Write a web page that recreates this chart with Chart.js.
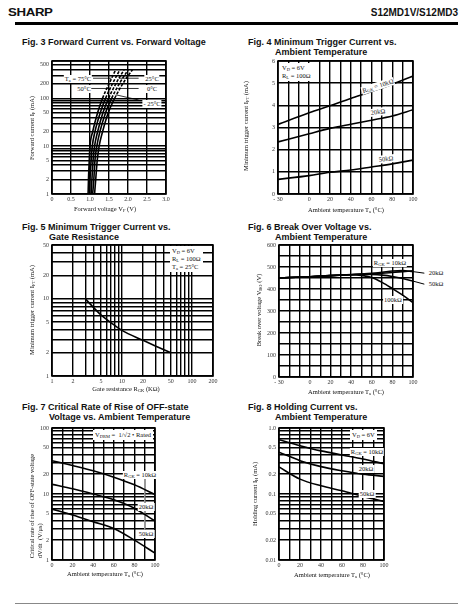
<!DOCTYPE html>
<html>
<head>
<meta charset="utf-8">
<script src="https://cdn.jsdelivr.net/npm/chart.js@4"></script>
<style>
body{margin:0;background:#fff}
#page{position:relative;width:465px;height:611px;overflow:hidden;font-family:'Liberation Serif',serif;color:#111}
canvas{position:absolute}
.hd{position:absolute;font-family:'Liberation Sans',Arial,sans-serif;font-weight:bold;white-space:nowrap}
.tt{position:absolute;font:bold 9px 'Liberation Sans',Arial,sans-serif;line-height:10px;white-space:nowrap}
.tt span{display:block;padding-left:27px}
.lb{position:absolute;font-size:6.5px;line-height:8px;white-space:nowrap;transform:translate(-50%,-50%);background:#fff;padding:0 1px}
.box{position:absolute;font-size:6.5px;line-height:8px;white-space:nowrap;background:#fff;padding:1px 2px}
sub{font-size:4.5px;vertical-align:-1px;line-height:0}
.ax{position:absolute;font-size:6.5px;white-space:nowrap;transform:translate(-50%,-50%)}
.ay{position:absolute;font-size:6.5px;line-height:8px;white-space:nowrap;transform:translate(-50%,-50%) rotate(-90deg)}
</style>
</head>
<body>
<div id="page">
  <div class="hd" style="left:8px;top:6px;font-size:11.5px;font-weight:900;letter-spacing:-0.3px;transform:scaleX(1.15);transform-origin:left">SHARP</div>
  <div class="hd" style="right:7px;top:7px;font-size:10px">S12MD1V/S12MD3</div>
  <div style="position:absolute;left:15px;top:22px;width:443px;height:3px;background:#000"></div>

  <div class="tt" style="left:22px;top:37px">Fig. 3 Forward Current vs. Forward Voltage</div>
  <div class="tt" style="left:248px;top:37px">Fig. 4 Minimum Trigger Current vs.<span>Ambient Temperature</span></div>
  <div class="tt" style="left:22px;top:222px">Fig. 5 Minimum Trigger Current vs.<span>Gate Resistance</span></div>
  <div class="tt" style="left:248px;top:222px">Fig. 6 Break Over Voltage vs.<span>Ambient Temperature</span></div>
  <div class="tt" style="left:22px;top:402px">Fig. 7 Critical Rate of Rise of OFF-state<span>Voltage vs. Ambient Temperature</span></div>
  <div class="tt" style="left:248px;top:402px">Fig. 8 Holding Current vs.<span>Ambient Temperature</span></div>

  <canvas id="c3"></canvas>
  <canvas id="c4"></canvas>
  <canvas id="c5"></canvas>
  <canvas id="c6"></canvas>
  <canvas id="c7"></canvas>
  <canvas id="c8"></canvas>

  <!-- fig 3 -->
  <div class="lb" style="left:78px;top:79px">T<sub>a</sub> = 75°C</div>
  <div class="lb" style="left:84px;top:89px">50°C</div>
  <div class="lb" style="left:152px;top:79px">25°C</div>
  <div class="lb" style="left:152px;top:89px">0°C</div>
  <div class="lb" style="left:152px;top:104px">- 25°C</div>
  <div class="ax" style="left:105px;top:208px">Forward voltage V<sub>F</sub> (V)</div>
  <div class="ay" style="left:32px;top:128px">Forward current I<sub>F</sub> (mA)</div>

  <!-- fig 4 -->
  <div class="box" style="left:280px;top:63px">V<sub>D</sub> = 6V<br>R<sub>L</sub> = 100Ω</div>
  <div class="lb" style="left:378px;top:86px;transform:translate(-50%,-50%) rotate(-18deg)">R<sub>GK</sub> = 10kΩ</div>
  <div class="lb" style="left:378px;top:112px;transform:translate(-50%,-50%) rotate(-8deg)">20kΩ</div>
  <div class="lb" style="left:386px;top:159px;transform:translate(-50%,-50%) rotate(-6deg)">50kΩ</div>
  <div class="ax" style="left:346px;top:209px">Ambient temperature T<sub>a</sub> (°C)</div>
  <div class="ay" style="left:246px;top:126px">Minimum trigger current I<sub>FT</sub> (mA)</div>

  <!-- fig 5 -->
  <div class="box" style="left:170px;top:246px">V<sub>D</sub> = 6V<br>R<sub>L</sub> = 100Ω<br>T<sub>a</sub> = 25°C</div>
  <div class="ax" style="left:126px;top:388px">Gate resistance R<sub>GK</sub> (KΩ)</div>
  <div class="ay" style="left:32px;top:310px">Minimum trigger current I<sub>FT</sub> (mA)</div>

  <!-- fig 6 -->
  <div class="lb" style="left:390px;top:263px">R<sub>GK</sub> = 10kΩ</div>
  <div class="lb" style="left:436px;top:273px">20kΩ</div>
  <div class="lb" style="left:436px;top:284px">50kΩ</div>
  <div class="lb" style="left:393px;top:300px">100kΩ</div>
  <div class="ax" style="left:346px;top:391px">Ambient temperature T<sub>a</sub> (°C)</div>
  <div class="ay" style="left:259px;top:310px">Break over voltage V<sub>BO</sub> (V)</div>

  <!-- fig 7 -->
  <div class="box" style="left:93px;top:430px">V<sub>DRM</sub> = &nbsp;1/√2 • Rated</div>
  <div class="lb" style="left:140px;top:475px">R<sub>GK</sub> = 10kΩ</div>
  <div class="lb" style="left:146px;top:507px">20kΩ</div>
  <div class="lb" style="left:146px;top:534px">50kΩ</div>
  <div class="ax" style="left:105px;top:573px">Ambient temperature T<sub>a</sub> (°C)</div>
  <div class="ay" style="left:36px;top:506px;text-align:left">Critical rate of rise of OFF-state voltage<br>dV/dt &nbsp;(V/μs)</div>

  <!-- fig 8 -->
  <div class="box" style="left:350px;top:430px">V<sub>D</sub> = 6V</div>
  <div class="lb" style="left:367px;top:452px">R<sub>GK</sub> = 10kΩ</div>
  <div class="lb" style="left:366px;top:469px">20kΩ</div>
  <div class="lb" style="left:367px;top:494px">50kΩ</div>
  <div class="ax" style="left:332px;top:574px">Ambient temperature T<sub>a</sub> (°C)</div>
  <div class="ay" style="left:255px;top:494px">Holding current I<sub>H</sub> (mA)</div>

  <div style="position:absolute;left:15px;top:603px;width:443px;height:1px;background:#888"></div>
</div>

<script>
// ---- Fig. 3 Forward current vs forward voltage ----
const fig3Current = [1, 2, 5, 10, 20, 50, 100, 200, 400];
const fig3V75 = [0.95, 0.96, 0.98, 1.00, 1.07, 1.20, 1.33, 1.50, 1.68];
const fig3V50 = [0.99, 1.00, 1.03, 1.06, 1.13, 1.27, 1.41, 1.59, 1.79];
const fig3V25 = [1.03, 1.05, 1.08, 1.12, 1.20, 1.34, 1.49, 1.68, 1.90];
const fig3V0 = [1.07, 1.10, 1.13, 1.18, 1.26, 1.41, 1.57, 1.77, 2.01];
const fig3Vm25 = [1.12, 1.15, 1.19, 1.24, 1.33, 1.48, 1.65, 1.86, 2.12];
const fig3XTicks = [0, 0.5, 1, 1.5, 2, 2.5, 3];
const fig3YGrid = [1, 2, 3, 4, 5, 6, 7, 8, 9, 10, 20, 30, 40, 50, 60, 70, 80, 90, 100, 200, 300, 400, 500, 600];
const fig3YLabels = [1, 2, 5, 10, 20, 50, 100, 200, 500];

// ---- Fig. 4 Minimum trigger current vs ambient temperature ----
const fig4Temp = [-30, 0, 20, 40, 60, 80, 100];
const fig4Rgk10 = [3.14, 3.66, 3.98, 4.31, 4.62, 4.95, 5.32];
const fig4Rgk20 = [2.35, 2.72, 2.96, 3.15, 3.33, 3.52, 3.80];
const fig4Rgk50 = [0.66, 0.83, 0.98, 1.08, 1.22, 1.36, 1.53];
const tempGrid = [-30, -20, -10, 0, 10, 20, 30, 40, 50, 60, 70, 80, 90, 100];
const tempLabels = [-30, 0, 20, 40, 60, 80, 100];
const fig4YTicks = [0, 1, 2, 3, 4, 5, 6];

// ---- Fig. 5 Minimum trigger current vs gate resistance ----
const fig5Rgk = [3, 5, 7, 10, 20, 30, 50];
const fig5Ift = [10, 6.2, 4.9, 3.9, 2.9, 2.45, 2.0];
const fig5XGrid = [1, 2, 3, 4, 5, 6, 7, 8, 9, 10, 20, 30, 40, 50, 60, 70, 80, 90, 100, 200];
const fig5XLabels = [1, 2, 5, 10, 20, 50, 100, 200];
const fig5YGrid = [1, 2, 3, 4, 5, 6, 7, 8, 9, 10, 20, 30, 40, 50];
const fig5YLabels = [1, 2, 5, 10, 20, 50];

// ---- Fig. 6 Break over voltage vs ambient temperature ----
const fig6Temp = [-30, 0, 20, 40, 50, 60, 70, 80, 90, 100];
const fig6Rgk10 = [450, 456, 461, 465, 467, 469, 472, 475, 479, 483];
const fig6Rgk20 = [450, 456, 461, 466, 468, 471, 476, 482, 484, 479];
const fig6Rgk50 = [450, 456, 461, 465, 467, 466, 463, 457, 448, 436];
const fig6Rgk100 = [450, 456, 461, 465, 462, 452, 430, 402, 372, 338];
const fig6YGrid = [0, 50, 100, 150, 200, 250, 300, 350, 400, 450, 500, 550, 600];
const fig6YLabels = [0, 100, 200, 300, 400, 500, 600];

// ---- Fig. 7 Critical rate of rise of OFF-state voltage ----
const fig7Temp = [0, 20, 40, 60, 80, 100];
const fig7Rgk10 = [32, 27, 22.5, 18, 13.8, 9.8];
const fig7Rgk20 = [14, 12, 10, 8.2, 6.1, 3.9];
const fig7Rgk50 = [5.9, 4.8, 3.8, 3.0, 2.0, 1.27];
const tempGrid100 = [0, 10, 20, 30, 40, 50, 60, 70, 80, 90, 100];
const tempLabels100 = [0, 20, 40, 60, 80, 100];
const fig7YGrid = [1, 2, 3, 4, 5, 6, 7, 8, 9, 10, 20, 30, 40, 50, 60, 70, 80, 90, 100];
const fig7YLabels = [1, 2, 5, 10, 20, 50, 100];

// ---- Fig. 8 Holding current vs ambient temperature ----
const fig8Temp = [0, 20, 40, 60, 80, 100];
const fig8Rgk10 = [0.666, 0.54, 0.45, 0.39, 0.34, 0.287];
const fig8Rgk20 = [0.43, 0.32, 0.26, 0.225, 0.2, 0.185];
const fig8Rgk50 = [0.257, 0.168, 0.133, 0.112, 0.092, 0.077];
const fig8YGrid = [0.01, 0.02, 0.03, 0.04, 0.05, 0.06, 0.07, 0.08, 0.09, 0.1, 0.2, 0.3, 0.4, 0.5, 0.6, 0.7, 0.8, 0.9, 1];
const fig8YLabels = [0.01, 0.02, 0.05, 0.1, 0.2, 0.5, 1];

const FONT = "'Liberation Serif', 'Times New Roman', serif";
const PAD_L = 40, PAD_R = 42, PAD_T = 8, PAD_B = 14;

// outer frame of the plot
const frame = {
  id: 'frame',
  afterDatasetsDraw(chart) {
    const a = chart.chartArea, ctx = chart.ctx;
    ctx.save();
    ctx.strokeStyle = '#000';
    ctx.lineWidth = 1.6;
    ctx.strokeRect(a.left, a.top, a.right - a.left, a.bottom - a.top);
    ctx.restore();
  }
};

function axis(o, horizontal) {
  return {
    type: o.type || 'linear',
    min: o.min,
    max: o.max,
    afterBuildTicks: s => { s.ticks = o.grid.map(v => ({ value: v })); },
    afterFit: s => { if (horizontal) s.height = PAD_B; else s.width = PAD_L; },
    grid: { color: '#000', lineWidth: 1.4, drawTicks: false },
    border: { display: false },
    ticks: {
      autoSkip: false, maxRotation: 0, minRotation: 0,
      padding: horizontal ? 2 : 3,
      color: '#333',
      font: { family: FONT, size: 6 },
      callback: v => (o.labels.includes(v) ? (o.fmt ? o.fmt(v) : String(v)) : '')
    }
  };
}

function curve(xs, ys, extra) {
  return Object.assign({
    data: xs.map((x, i) => ({ x: x, y: ys[i] })),
    borderColor: '#000', borderWidth: 1.6, pointRadius: 0,
    cubicInterpolationMode: 'monotone', fill: false
  }, extra || {});
}

function leader(pts, extra) {
  return Object.assign({
    data: pts.map(p => ({ x: p[0], y: p[1] })),
    borderColor: '#000', borderWidth: 0.8, pointRadius: 0, tension: 0, fill: false
  }, extra || {});
}

function makeChart(id, area, xAxis, yAxis, datasets) {
  const [L, T, R, B] = area;
  const cv = document.getElementById(id);
  cv.width = R - L + PAD_L + PAD_R;
  cv.height = B - T + PAD_T + PAD_B;
  cv.style.left = (L - PAD_L) + 'px';
  cv.style.top = (T - PAD_T) + 'px';
  return new Chart(cv, {
    type: 'line',
    data: { datasets: datasets },
    options: {
      responsive: false, animation: false, devicePixelRatio: 1,
      layout: { padding: { left: 0, top: PAD_T, right: PAD_R, bottom: 0 } },
      plugins: { legend: { display: false }, tooltip: { enabled: false } },
      scales: { x: axis(xAxis, true), y: axis(yAxis, false) }
    },
    plugins: [frame]
  });
}

const dashTop = { segment: { borderDash: c => (c.p0.parsed.y >= 100 ? [3, 1.5] : undefined) } };
const tempFmt = v => (v < 0 ? '- ' + Math.abs(v) : String(v));

// Fig. 3
makeChart('c3', [52, 61, 166, 194],
  { min: 0, max: 3, grid: fig3XTicks, labels: fig3XTicks, fmt: v => (v === 0 ? '0' : v.toFixed(1)) },
  { type: 'logarithmic', min: 1, max: 600, grid: fig3YGrid, labels: fig3YLabels },
  [
    curve(fig3V75, fig3Current, dashTop),
    curve(fig3V50, fig3Current, dashTop),
    curve(fig3V25, fig3Current, dashTop),
    curve(fig3V0, fig3Current, dashTop),
    curve(fig3Vm25, fig3Current, dashTop),
    leader([[1.08, 262], [1.56, 262]]),
    leader([[1.02, 160], [1.52, 160]]),
    leader([[2.28, 262], [1.76, 262]]),
    leader([[2.28, 160], [1.72, 160]]),
    leader([[2.28, 92], [1.68, 118]])
  ]);

// Fig. 4
makeChart('c4', [278, 61, 413, 194],
  { min: -30, max: 100, grid: tempGrid, labels: tempLabels, fmt: tempFmt },
  { min: 0, max: 6, grid: fig4YTicks, labels: fig4YTicks },
  [
    curve(fig4Temp, fig4Rgk10),
    curve(fig4Temp, fig4Rgk20),
    curve(fig4Temp, fig4Rgk50)
  ]);

// Fig. 5
makeChart('c5', [52, 245, 213, 376],
  { type: 'logarithmic', min: 1, max: 200, grid: fig5XGrid, labels: fig5XLabels },
  { type: 'logarithmic', min: 1, max: 50, grid: fig5YGrid, labels: fig5YLabels },
  [curve(fig5Rgk, fig5Ift)]);

// Fig. 6
makeChart('c6', [279, 245, 413, 377],
  { min: -30, max: 100, grid: tempGrid, labels: tempLabels, fmt: tempFmt },
  { min: 0, max: 600, grid: fig6YGrid, labels: fig6YLabels },
  [
    curve(fig6Temp, fig6Rgk10),
    curve(fig6Temp, fig6Rgk20),
    curve(fig6Temp, fig6Rgk50),
    curve(fig6Temp, fig6Rgk100),
    leader([[100, 479], [111, 472]], { clip: false, borderWidth: 1 }),
    leader([[100, 436], [111, 422]], { clip: false, borderWidth: 1 })
  ]);

// Fig. 7
makeChart('c7', [52, 428, 155, 560],
  { min: 0, max: 100, grid: tempGrid100, labels: tempLabels100 },
  { type: 'logarithmic', min: 1, max: 100, grid: fig7YGrid, labels: fig7YLabels },
  [
    curve(fig7Temp, fig7Rgk10),
    curve(fig7Temp, fig7Rgk20),
    curve(fig7Temp, fig7Rgk50),
    leader([[90, 21], [90, 2.3]], { borderColor: '#999', borderWidth: 1 })
  ]);

// Fig. 8
makeChart('c8', [279, 428, 384, 560],
  { min: 0, max: 100, grid: tempGrid100, labels: tempLabels100 },
  { type: 'logarithmic', min: 0.01, max: 1, grid: fig8YGrid, labels: fig8YLabels, fmt: v => (v === 1 ? '1.0' : String(v)) },
  [
    curve(fig8Temp, fig8Rgk10),
    curve(fig8Temp, fig8Rgk20),
    curve(fig8Temp, fig8Rgk50)
  ]);
</script>
</body>
</html>
